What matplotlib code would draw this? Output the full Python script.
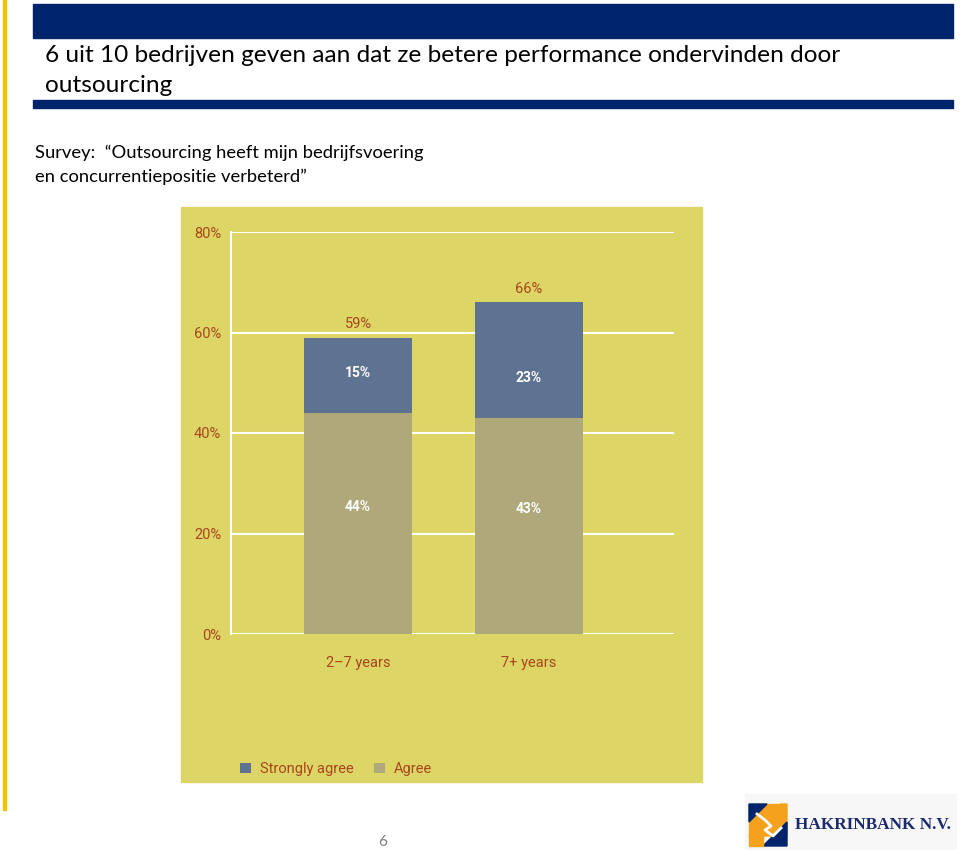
import matplotlib
matplotlib.use("Agg")
import matplotlib.pyplot as plt
from matplotlib.patches import Rectangle, Polygon
import numpy as np

# data
groups = ["2\u20137 years", "7+ years"]
agree = [44, 43]
strongly_agree = [15, 23]
y_ticks = [0, 20, 40, 60, 80]

W, H = 960, 852
fig = plt.figure(figsize=(W / 100, H / 100), dpi=100)
fig.patch.set_facecolor("white")


def fx(px):
    return px / W


def fy(py):
    return 1 - py / H


def box(x0, y0, x1, y1, **kw):
    # rectangle given in pixel coords measured from the top left
    fig.patches.append(Rectangle((fx(x0), fy(y1)), fx(x1 - x0), (y1 - y0) / H,
                                 transform=fig.transFigure, zorder=-1, **kw))


slide_font = ["Lato", "DejaVu Sans"]
chart_font = ["Liberation Sans Narrow", "Roboto", "DejaVu Sans"]
navy = "#00246b"

# -- slide decoration --
box(3, 0, 5.5, 810, color="#f2c200")
box(33, 4, 953, 38, color=navy)
box(33, 100, 953, 108, color=navy)

fig.text(fx(45), fy(55), "6 uit 10 bedrijven geven aan dat ze betere performance ondervinden door",
         family=slide_font, fontsize=17.6, va="center", ha="left", color="black")
fig.text(fx(45), fy(86), "outsourcing",
         family=slide_font, fontsize=17.6, va="center", ha="left", color="black")
fig.text(fx(35), fy(153), "Survey:  \u201cOutsourcing heeft mijn bedrijfsvoering",
         family=slide_font, fontsize=13.2, va="center", ha="left")
fig.text(fx(35), fy(177), "en concurrentiepositie verbeterd\u201d",
         family=slide_font, fontsize=13.2, va="center", ha="left")
fig.text(fx(383), fy(842), "6", family=slide_font, fontsize=11, color="#7f7f7f",
         ha="center", va="center")

# -- chart image background --
box(181, 207, 702, 782, color="#ddd667")

brown = "#a8461c"
c_strong = "#5e7291"
c_agree = "#aea87b"

ax = fig.add_axes([fx(231), fy(634), fx(674 - 231), (634 - 232) / H])
ax.set_facecolor("none")
x = np.arange(len(groups))
bw = 0.632
b1 = ax.bar(x, agree, width=bw, color=c_agree, zorder=3, label="Agree")
b2 = ax.bar(x, strongly_agree, bottom=agree, width=bw, color=c_strong, zorder=3,
            label="Strongly agree")

for i in range(len(groups)):
    ax.text(x[i], agree[i] / 2 + 3.3, f"{agree[i]}%", ha="center", va="center",
            color="white", fontsize=10, fontweight="bold", family=chart_font, zorder=4)
    ax.text(x[i], agree[i] + 8, f"{strongly_agree[i]}%",
            ha="center", va="center", color="white", fontsize=10, fontweight="bold",
            family=chart_font, zorder=4)
    total = agree[i] + strongly_agree[i]
    ax.text(x[i], total + 2.7, f"{total}%", ha="center", va="center",
            color=brown, fontsize=10.5, family=chart_font, zorder=4)

ax.set_xlim(-0.743, 1.848)
ax.set_ylim(0, 80)
ax.set_yticks(y_ticks)
ax.set_yticklabels([f"{t}%" for t in y_ticks], color=brown, fontsize=10.5, family=chart_font)
ax.set_xticks(x)
ax.set_xticklabels(groups, color=brown, fontsize=10.5, family=chart_font)
ax.tick_params(axis="both", length=0)
ax.tick_params(axis="y", pad=7)
ax.tick_params(axis="x", pad=16)
for t in y_ticks:
    ax.axhline(t, color="white", linewidth=1.5, zorder=1)
for s in ["top", "right", "bottom"]:
    ax.spines[s].set_visible(False)
ax.spines["left"].set_color("white")
ax.spines["left"].set_linewidth(1.5)

leg = fig.legend(handles=[b2, b1], labels=["Strongly agree", "Agree"], loc="center left",
                 bbox_to_anchor=(fx(227), fy(769)), ncol=2, frameon=False,
                 handlelength=0.75, handleheight=0.75, handletextpad=0.6,
                 columnspacing=1.4, prop={"family": chart_font, "size": 10.5})
for t in leg.get_texts():
    t.set_color(brown)

# -- bank logo --
lax = fig.add_axes([fx(745), fy(850), fx(212), 56 / H])
lax.set_xlim(0, 212)
lax.set_ylim(0, 56)
lax.axis("off")
lax.add_patch(Rectangle((0, 0), 212, 56, color="#f7f7f7"))
orange = "#f4a21d"
lax.add_patch(Polygon([(4, 14), (4, 46), (36, 46)], color=orange))
lax.add_patch(Polygon([(4, 14), (36, 46), (42, 46), (42, 14)], color=orange))
lax.add_patch(Polygon([(4, 46), (22, 46), (4, 28)], color=navy))
lax.add_patch(Polygon([(42, 4), (42, 28), (18, 4)], color=navy))
lax.add_patch(Rectangle((4, 4), 14, 10, color=orange))
lax.plot([12, 20, 26, 20, 28, 36], [36, 30, 24, 20, 14, 22], color="white", linewidth=2)
lax.text(50, 25, "HAKRINBANK N.V.", family=["Liberation Serif", "DejaVu Serif"],
         fontweight="bold", fontsize=12.4, color="#1b2a6b", va="center", ha="left")

fig.savefig("out.png", dpi=100)
